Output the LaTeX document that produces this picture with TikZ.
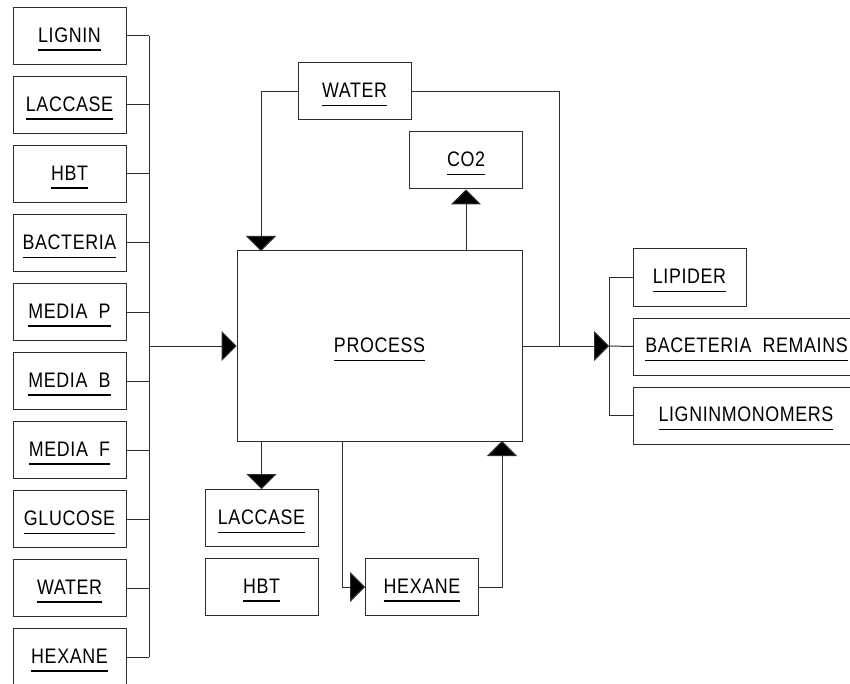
\documentclass[tikz,border=0pt]{standalone}
\usepackage{fontspec}
\setmainfont{Liberation Sans}
\newfontfamily\cadfont{Liberation Sans}[FakeStretch=0.85, LetterSpace=3]
\usetikzlibrary{arrows.meta}
\pgfdeclarelayer{edgelayer}
\pgfdeclarelayer{nodelayer}
\pgfsetlayers{edgelayer,nodelayer,main}
\definecolor{linegray}{RGB}{45,45,45}
\newcommand{\boxlabel}[1]{\vtop{\hbox{\rule{0pt}{21pt}#1}\kern7pt\hrule height 1.2pt}}
\tikzstyle{unit}=[rectangle, draw=linegray, fill=white, line width=1pt, minimum width=113pt, minimum height=57pt, inner sep=0pt, font=\cadfont\fontsize{21}{25}\selectfont]
\tikzstyle{reactor}=[rectangle, draw=linegray, fill=white, line width=1pt, minimum width=285pt, minimum height=190pt, inner sep=0pt, font=\cadfont\fontsize{21}{25}\selectfont]
\tikzstyle{pipe}=[-, draw=linegray, line width=1pt]
\tikzstyle{arrow}=[-{Triangle[width=30pt,length=15pt,fill=black]}, draw=linegray, line width=1pt]

\begin{document}
\begin{tikzpicture}[x=1pt, y=-1pt]
            \useasboundingbox (0, 0) rectangle (850, 684);
            \begin{pgfonlayer}{nodelayer}
                \node [style=unit] (lignin) at (69.5, 36) {\boxlabel{LIGNIN}};
                \node [style=unit] (laccaseIn) at (69.5, 105) {\boxlabel{LACCASE}};
                \node [style=unit] (hbtIn) at (69.5, 174) {\boxlabel{HBT}};
                \node [style=unit] (bacteria) at (69.5, 243) {\boxlabel{BACTERIA}};
                \node [style=unit] (mediaP) at (69.5, 312) {\boxlabel{MEDIA\ \ P}};
                \node [style=unit] (mediaB) at (69.5, 381) {\boxlabel{MEDIA\ \ B}};
                \node [style=unit] (mediaF) at (69.5, 450) {\boxlabel{MEDIA\ \ F}};
                \node [style=unit] (glucose) at (69.5, 519) {\boxlabel{GLUCOSE}};
                \node [style=unit] (waterIn) at (69.5, 588) {\boxlabel{WATER}};
                \node [style=unit] (hexaneIn) at (69.5, 657) {\boxlabel{HEXANE}};

                \node [style=reactor] (process) at (379.5, 346) {\boxlabel{PROCESS}};
                \node [style=unit] (water) at (354.5, 91.5) {\boxlabel{WATER}};
                \node [style=unit] (co2) at (466, 160.5) {\boxlabel{CO2}};

                \node [style=unit] (lipider) at (689.5, 277.5) {\boxlabel{LIPIDER}};
                \node [style=unit, anchor=west, minimum width=226pt] (remains) at (633, 346.5) {\boxlabel{BACETERIA\ \ REMAINS}};
                \node [style=unit, anchor=west, minimum width=225pt] (monomers) at (633, 415.5) {\boxlabel{LIGNINMONOMERS}};

                \node [style=unit] (laccaseOut) at (261.5, 518) {\boxlabel{LACCASE}};
                \node [style=unit] (hbtOut) at (261.5, 587) {\boxlabel{HBT}};
                \node [style=unit] (hexaneOut) at (422, 587) {\boxlabel{HEXANE}};

                \coordinate (busTop) at (149, 36);
                \coordinate (busBot) at (149, 657);
                \coordinate (busMid) at (149, 346);
                \coordinate (waterDrop) at (261, 251);
                \coordinate (outJoin) at (559, 346);
                \coordinate (outBus) at (609, 346);
                \coordinate (hexDrop) at (342, 441);
                \coordinate (hexBack) at (502, 441);
            \end{pgfonlayer}
            \begin{pgfonlayer}{edgelayer}
                \draw [style=pipe] (busTop) to (busBot);
                \foreach \feed in {lignin, laccaseIn, hbtIn, bacteria, mediaP, mediaB, mediaF, glucose, waterIn, hexaneIn}
                    \draw [style=pipe] (\feed.east) to (\feed.east -| busTop);
                \draw [style=arrow] (busMid) to (process.west);

                \draw [style=arrow] (water.west) -| (waterDrop);
                \draw [style=pipe] (water.east) -| (outJoin);
                \draw [style=arrow] (process.north -| co2.south) to (co2.south);

                \draw [style=arrow] (process.east) to (outBus);
                \draw [style=pipe] (lipider.west -| outBus) to (monomers.west -| outBus);
                \draw [style=pipe] (lipider.west -| outBus) to (lipider.west);
                \draw [style=pipe] (outBus) to (remains.west);
                \draw [style=pipe] (monomers.west -| outBus) to (monomers.west);

                \draw [style=arrow] (process.south -| laccaseOut.north) to (laccaseOut.north);
                \draw [style=arrow] (hexDrop) |- (hexaneOut.west);
                \draw [style=arrow] (hexaneOut.east) -| (hexBack);
            \end{pgfonlayer}
        \end{tikzpicture}
\end{document}
